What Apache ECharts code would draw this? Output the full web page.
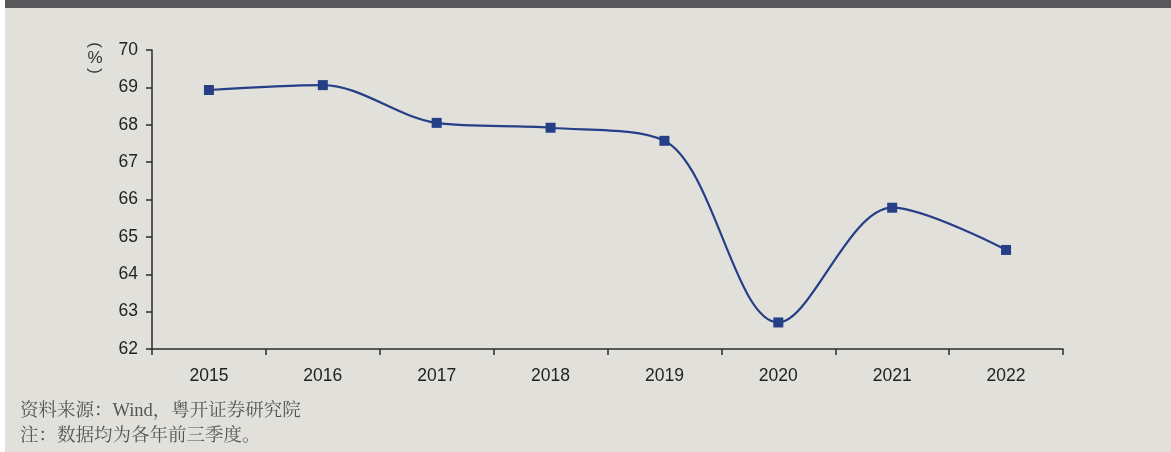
<!DOCTYPE html>
<html>
<head>
<meta charset="utf-8">
<script src="https://cdn.jsdelivr.net/npm/echarts@6/dist/echarts.min.js"></script>
<style>
  html, body { margin: 0; padding: 0; background: #ffffff; }
  #chart { width: 1171px; height: 452px; }
</style>
</head>
<body>
<div id="chart"></div>
<script>
// 各年前三季度比例（%）
const years = ['2015', '2016', '2017', '2018', '2019', '2020', '2021', '2022'];
const ratio = [68.93, 69.06, 68.05, 67.92, 67.57, 62.71, 65.78, 64.65];
const yTicks = { min: 62, max: 70, interval: 1 };
const unitLabel = '%';
const sourceNote = '资料来源：Wind，粤开证券研究院';
const footNote = '注：数据均为各年前三季度。';

const chart = echarts.init(document.getElementById('chart'), null, { renderer: 'canvas' });

const axisColor = '#2b2b2b';
const labelFont = "'Liberation Sans', Arial, sans-serif";
const noteFont = "'Liberation Serif', 'Noto Serif CJK SC', 'Noto Sans CJK SC', serif";

chart.setOption({
  backgroundColor: '#e1e0da',
  animation: false,
  grid: { left: 152, right: 108, top: 50, bottom: 103, containLabel: false },
  xAxis: {
    type: 'category',
    data: years,
    boundaryGap: true,
    axisLine: { show: true, lineStyle: { color: axisColor, width: 1.5 } },
    axisTick: { show: true, length: 6, lineStyle: { color: axisColor, width: 1.5 } },
    axisLabel: { color: '#222', fontSize: 17.5, fontFamily: labelFont, margin: 18 },
    splitLine: { show: false }
  },
  yAxis: {
    type: 'value',
    min: yTicks.min,
    max: yTicks.max,
    interval: yTicks.interval,
    axisLine: { show: true, lineStyle: { color: axisColor, width: 1.5 } },
    axisTick: { show: true, length: 6, lineStyle: { color: axisColor, width: 1.5 } },
    axisLabel: { color: '#222', fontSize: 17.5, fontFamily: labelFont, margin: 14 },
    splitLine: { show: false }
  },
  series: [{
    type: 'line',
    data: ratio,
    smooth: 0.33,
    symbol: 'rect',
    symbolSize: 10,
    lineStyle: { color: '#243f86', width: 2.2 },
    itemStyle: { color: '#243f86' }
  }],
  graphic: [
    { type: 'rect', left: 0, top: 0, shape: { width: 5, height: 452 }, style: { fill: '#ffffff' }, silent: true },
    { type: 'rect', left: 5, top: 0, shape: { width: 1166, height: 8 }, style: { fill: '#58585a' }, silent: true },
    // vertical unit label: parentheses turned sideways around an upright percent sign
    { type: 'text', x: 95, y: 45, rotation: -Math.PI / 2,
      style: { text: '(', x: 0, y: 0, align: 'center', verticalAlign: 'middle', fontSize: 17, fill: '#333', fontFamily: labelFont } },
    { type: 'text', x: 95, y: 58,
      style: { text: unitLabel, x: 0, y: 0, align: 'center', verticalAlign: 'middle', fontSize: 17, fill: '#333', fontFamily: labelFont } },
    { type: 'text', x: 95, y: 71, rotation: -Math.PI / 2,
      style: { text: ')', x: 0, y: 0, align: 'center', verticalAlign: 'middle', fontSize: 17, fill: '#333', fontFamily: labelFont } },
    { type: 'text', x: 20, y: 411,
      style: { text: sourceNote, x: 0, y: 0, align: 'left', verticalAlign: 'middle', fontSize: 18.5, fill: '#555', fontFamily: noteFont } },
    { type: 'text', x: 20, y: 436,
      style: { text: footNote, x: 0, y: 0, align: 'left', verticalAlign: 'middle', fontSize: 18.5, fill: '#555', fontFamily: noteFont } }
  ]
});
</script>
</body>
</html>
